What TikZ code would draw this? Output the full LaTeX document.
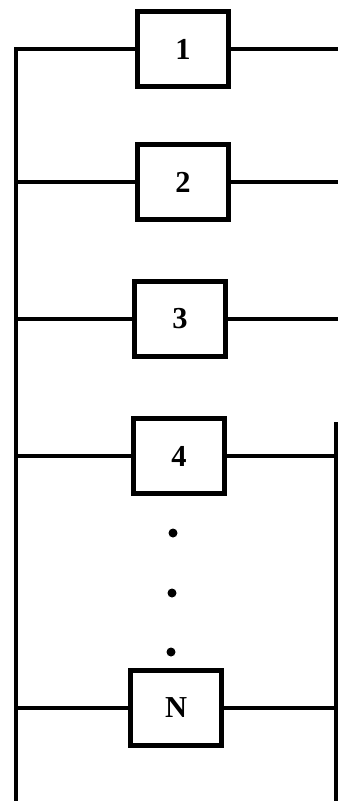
\documentclass[tikz,border=0pt]{standalone}
\usepackage{fontspec}
\setmainfont{Liberation Serif}
\usetikzlibrary{positioning}
\tikzset{
  blk/.style    ={draw, line width=4pt, minimum width=2.75cm, minimum height=2.25cm, inner sep=0pt,
                  font=\fontsize{26}{28}\selectfont\bfseries},
  wire/.style   ={line width=4pt},
  dotnode/.style={circle, fill, inner sep=0pt, minimum size=0.27cm}
}

\begin{document}
\begin{tikzpicture}[x=0.03cm, y=-0.03cm]
  \useasboundingbox (0,0) rectangle (338,801);
  \node[blk] (b1) at (183,49)  {1};
  \node[blk] (b2) at (183,182) {2};
  \node[blk] (b3) at (180,319) {3};
  \node[blk] (b4) at (179,456) {4};
  \node[blk] (bN) at (176,708) {N};
  \node[dotnode] (d1) at (173,533) {};
  \node[dotnode] (d2) at (172,593) {};
  \node[dotnode] (d3) at (171,652) {};
  \coordinate (ltop) at (16,49);
  \coordinate (lbot) at (16,801);
  \coordinate (rtop) at (336,422);
  \coordinate (rbot) at (336,801);
  \coordinate (edge) at (338,0);
  % left rail
  \draw[wire] (b1.west) -- (ltop) -- (lbot);
  \draw[wire] (b2.west) -- (b2.west -| ltop);
  \draw[wire] (b3.west) -- (b3.west -| ltop);
  \draw[wire] (b4.west) -- (b4.west -| ltop);
  \draw[wire] (bN.west) -- (bN.west -| ltop);
  % right rail
  \draw[wire] (rtop) -- (rbot);
  \draw[wire] (b1.east) -- (b1.east -| edge);
  \draw[wire] (b2.east) -- (b2.east -| edge);
  \draw[wire] (b3.east) -- (b3.east -| edge);
  \draw[wire] (b4.east) -- (b4.east -| rtop);
  \draw[wire] (bN.east) -- (bN.east -| rtop);
\end{tikzpicture}
\end{document}
